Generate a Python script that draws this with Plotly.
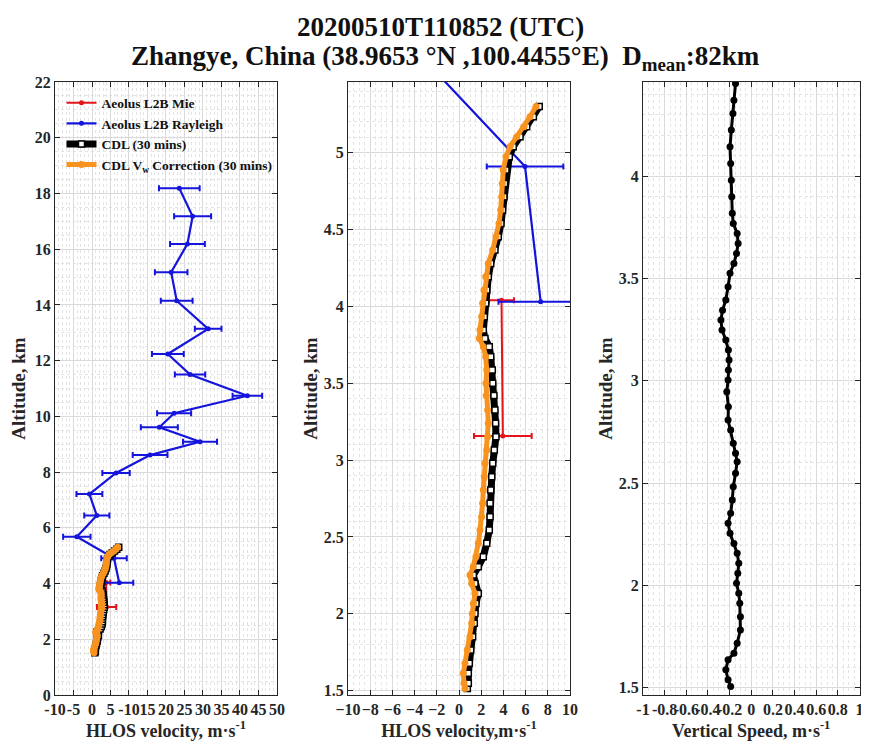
import plotly.graph_objects as go

# ---------------- data ----------------
ray_alt = [18.19, 17.18, 16.19, 15.17, 14.15, 13.14, 12.24, 11.50, 10.74, 10.11,
           9.61, 9.09, 8.61, 7.97, 7.21, 6.44, 5.68, 4.91, 4.03]
ray_hlos = [23.6, 27.2, 25.8, 21.4, 22.9, 31.4, 20.5, 26.5, 42.0, 22.2,
            18.2, 29.2, 15.7, 6.5, -0.7, 1.3, -4.1, 5.95, 7.36]
ray_err = [5.5, 5.0, 4.7, 4.4, 4.3, 3.6, 4.3, 4.1, 4.0, 4.6,
           5.0, 4.6, 4.7, 3.7, 3.5, 3.4, 3.7, 3.45, 3.8]

mie_alt = [4.04, 3.157]
mie_hlos = [3.83, 3.95]
mie_err = [1.13, 2.6]

cdl_alt = [1.515, 1.548, 1.613, 1.678, 1.764, 1.851, 1.938, 2.003, 2.068, 2.133,
           2.198, 2.252, 2.307, 2.372, 2.459, 2.545, 2.632, 2.719, 2.805, 2.892,
           2.979, 3.066, 3.152, 3.24, 3.326, 3.42, 3.50, 3.586, 3.673, 3.738,
           3.792, 3.846, 3.933, 4.02, 4.107, 4.193, 4.28, 4.367, 4.453, 4.54,
           4.627, 4.714, 4.80, 4.887, 4.974, 5.039, 5.104, 5.169, 5.234, 5.30]
cdl_hlos = [0.75, 0.84, 0.84, 0.93, 1.05, 1.23, 1.38, 1.44, 1.53, 1.74,
            1.44, 1.29, 1.74, 2.19, 2.50, 2.73, 2.80, 2.80, 2.86, 2.95,
            3.04, 3.18, 3.33, 3.30, 3.24, 3.15, 3.04, 3.00, 2.86, 2.73,
            2.34, 2.19, 2.28, 2.41, 2.50, 2.64, 2.86, 3.24, 3.54, 3.78,
            3.93, 4.05, 4.11, 4.23, 4.53, 4.89, 5.50, 6.10, 6.70, 7.23]
cdl_corr_hlos = [0.54, 0.45, 0.39, 0.54, 0.75, 0.99, 1.14, 1.20, 1.29, 1.44,
                 1.14, 0.99, 1.29, 1.53, 1.74, 1.89, 2.04, 2.13, 2.19, 2.28,
                 2.34, 2.50, 2.58, 2.64, 2.58, 2.45, 2.43, 2.50, 2.41, 2.19,
                 1.83, 1.89, 2.04, 2.13, 2.25, 2.41, 2.64, 3.04, 3.33, 3.60,
                 3.76, 3.85, 3.90, 3.99, 4.23, 4.60, 5.20, 5.86, 6.40, 6.94]

vs_alt = [1.505, 1.538, 1.587, 1.636, 1.668, 1.717, 1.782, 1.847, 1.913, 1.961,
          2.010, 2.059, 2.108, 2.157, 2.205, 2.254, 2.303, 2.352, 2.417, 2.482,
          2.548, 2.604, 2.645, 2.694, 2.759, 2.808, 2.873, 2.946, 3.003, 3.052,
          3.101, 3.150, 3.199, 3.248, 3.297, 3.345, 3.394, 3.459, 3.525, 3.573,
          3.622, 3.671, 3.720, 3.769, 3.818, 3.899, 3.980, 4.062, 4.143, 4.225,
          4.306, 4.371, 4.453]
vs_speed = [-0.19, -0.214, -0.235, -0.214, -0.16, -0.13, -0.10, -0.10, -0.106, -0.115,
            -0.136, -0.124, -0.115, -0.13, -0.16, -0.196, -0.214, -0.19, -0.175, -0.166,
            -0.145, -0.13, -0.145, -0.166, -0.19, -0.214, -0.211, -0.226, -0.214, -0.211,
            -0.205, -0.211, -0.235, -0.27, -0.28, -0.265, -0.235, -0.214, -0.196, -0.16,
            -0.136, -0.121, -0.13, -0.166, -0.175, -0.18, -0.184, -0.19, -0.196, -0.184,
            -0.169, -0.16, -0.145]

left_xticks = [-10, -5, 0, 5, 10, 15, 20, 25, 30, 35, 40, 45, 50]
left_xticktext = ['-10', '-5', '0', '5', '-10', '15', '20', '25', '30', '35', '40', '45', '50']
right_xticks = [-1, -0.8, -0.6, -0.4, -0.2, 0, 0.2, 0.4, 0.6, 0.8, 1]
right_xticktext = ['-1', '-0.8', '-0.6', '-0.4', '-0.2', '0', '0.2', '0.4', '0.6', '0.8', '1']

title_line1 = '20200510T110852 (UTC)'
title_line2 = 'Zhangye, China (38.9653 °N ,100.4455°E)\u00a0\u00a0D<sub>mean</sub>:82km'

# ---------------- style ----------------
FONT = 'Liberation Serif'
RED = '#e3151b'
BLUE = '#1414dc'
ORANGE = '#f7931e'
BLACK = '#000000'

fig = go.Figure()

for ax, show in (('', True), ('2', False)):
    xa, ya = 'x' + ax, 'y' + ax
    fig.add_trace(go.Scatter(
        x=mie_hlos, y=mie_alt, xaxis=xa, yaxis=ya, mode='lines+markers',
        name='Aeolus L2B Mie', legendgroup='mie', showlegend=show,
        line=dict(color=RED, width=2), marker=dict(color=RED, size=5),
        error_x=dict(type='data', array=mie_err, color=RED, thickness=2, width=3)))
    fig.add_trace(go.Scatter(
        x=ray_hlos, y=ray_alt, xaxis=xa, yaxis=ya, mode='lines+markers',
        name='Aeolus L2B Rayleigh', legendgroup='ray', showlegend=show,
        line=dict(color=BLUE, width=2.2), marker=dict(color=BLUE, size=5),
        error_x=dict(type='data', array=ray_err, color=BLUE, thickness=2, width=3)))
    fig.add_trace(go.Scatter(
        x=cdl_hlos, y=cdl_alt, xaxis=xa, yaxis=ya, mode='lines+markers',
        name='CDL (30 mins)', legendgroup='cdl', showlegend=show,
        line=dict(color=BLACK, width=7),
        marker=dict(symbol='square', color='white', size=6,
                    line=dict(color=BLACK, width=1.5))))
    fig.add_trace(go.Scatter(
        x=cdl_corr_hlos, y=cdl_alt, xaxis=xa, yaxis=ya, mode='lines+markers',
        name='CDL V<sub>w</sub> Correction (30 mins)', legendgroup='corr', showlegend=show,
        line=dict(color=ORANGE, width=5), marker=dict(color=ORANGE, size=7)))

fig.add_trace(go.Scatter(
    x=vs_speed, y=vs_alt, xaxis='x3', yaxis='y3', mode='lines+markers',
    name='Vertical speed', showlegend=False,
    line=dict(color=BLACK, width=3), marker=dict(color=BLACK, size=7)))

tickfont = dict(family=FONT, size=16, color='#262626', weight='bold')
xtitlefont = dict(family=FONT, size=18, color='#262626', weight='bold')
ytitlefont = dict(family=FONT, size=19, color='#262626', weight='bold')
GRID = '#dadada'
MINOR = '#e4e4e4'


def axis(**kw):
    d = dict(showline=True, linecolor='#262626', linewidth=1, mirror='ticks',
             ticks='inside', ticklen=5, tickcolor='#262626', tickwidth=1,
             showgrid=True, gridcolor=GRID, gridwidth=1, zeroline=False,
             tickfont=tickfont, automargin=False, ticklabeloverflow='allow')
    d.update(kw)
    return d


# the page body adds an 8 px margin, so the figure is 8 px smaller on each axis
fig.update_layout(
    width=861, height=738,
    margin=dict(l=47, r=3, t=74, b=51),
    paper_bgcolor='white', plot_bgcolor='white',
    font=dict(family=FONT, color='#262626'),
    title=dict(text='<b>' + title_line1 + '</b>',
               x=0.5025, xanchor='center', y=1 - 19 / 738, yanchor='middle',
               xref='container', yref='container',
               font=dict(family=FONT, size=27, color='#111111')),
    annotations=[dict(text='<b>' + title_line2 + '</b>', xref='paper', yref='paper',
                      x=0.481, y=1.070, xanchor='center', yanchor='top', showarrow=False,
                      font=dict(family=FONT, size=27, color='#111111'))],
    showlegend=True,
    legend=dict(x=0.008, y=0.991, xanchor='left', yanchor='top', bgcolor='rgba(0,0,0,0)',
                font=dict(family=FONT, size=13.5, color='#111111', weight='bold'),
                tracegroupgap=0, itemwidth=30),
    xaxis=axis(domain=[0, 0.2737], range=[-10, 50], anchor='y',
               tickmode='array', tickvals=left_xticks, ticktext=left_xticktext, tickangle=0,
               minor=dict(dtick=1, showgrid=True, gridcolor=MINOR, griddash='dot'),
               title=dict(text='HLOS velocity, m·s<sup>-1</sup>', standoff=0, font=xtitlefont)),
    yaxis=axis(domain=[0, 1], range=[0, 22], anchor='x', dtick=2, tick0=0,
               minor=dict(dtick=0.5, showgrid=True, gridcolor=MINOR, griddash='dot'),
               title=dict(text='Altitude, km', standoff=6, font=ytitlefont)),
    xaxis2=axis(domain=[0.3613, 0.635], range=[-10, 10], anchor='y2', dtick=2, tick0=0, tickangle=0,
                minor=dict(dtick=0.5, showgrid=True, gridcolor=MINOR, griddash='dot'),
                title=dict(text='HLOS velocity,m·s<sup>-1</sup>', standoff=0, font=xtitlefont)),
    yaxis2=axis(domain=[0, 1], range=[1.472, 5.46], anchor='x2', dtick=0.5, tick0=0,
                minor=dict(dtick=0.1, showgrid=True, gridcolor=MINOR, griddash='dot'),
                title=dict(text='Altitude, km', standoff=1, font=ytitlefont)),
    xaxis3=axis(domain=[0.725, 0.992], range=[-1, 1], anchor='y3',
                tickmode='array', tickvals=right_xticks, ticktext=right_xticktext, tickangle=0,
                minor=dict(dtick=0.05, showgrid=True, gridcolor=MINOR, griddash='dot'),
                title=dict(text='Vertical Speed, m·s<sup>-1</sup>', standoff=0, font=xtitlefont)),
    yaxis3=axis(domain=[0, 1], range=[1.464, 4.46], anchor='x3', dtick=0.5, tick0=0,
                minor=dict(dtick=0.1, showgrid=True, gridcolor=MINOR, griddash='dot'),
                title=dict(text='Altitude, km', standoff=1, font=ytitlefont)),
)

fig.write_html('out.html')
